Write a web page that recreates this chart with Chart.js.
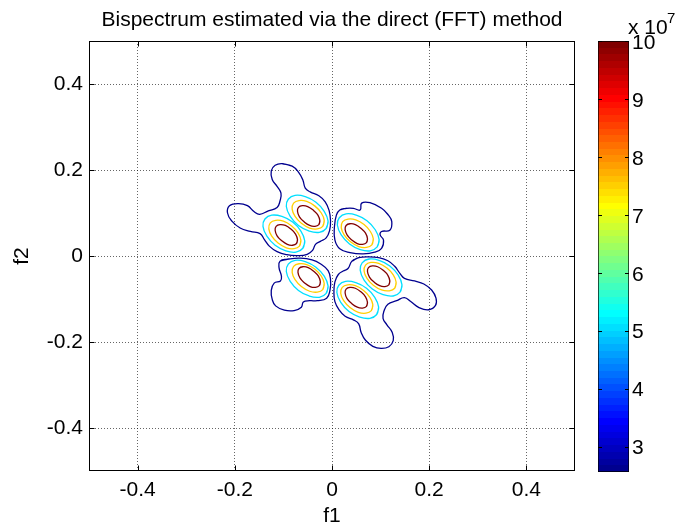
<!DOCTYPE html>
<html>
<head>
<meta charset="utf-8">
<title>Bispectrum (direct FFT method)</title>
<script src="https://cdn.jsdelivr.net/npm/chart.js@4.4.0/dist/chart.umd.min.js"></script>
<style>
  html, body { margin: 0; padding: 0; background: #fff; }
  #wrap { position: relative; width: 678px; height: 529px; }
  #main { position: absolute; left: 0; top: 0; }
  #cbar { position: absolute; left: 560px; top: 0; }
</style>
</head>
<body>
<div id="wrap">
  <canvas id="main" width="678" height="529"></canvas>
  <canvas id="cbar" width="118" height="529"></canvas>
</div>
<script>
'use strict';

/* ── axes / colour scale ─────────────────────────────────────────────── */
const X_TICKS = [-0.4, -0.2, 0, 0.2, 0.4];
const Y_TICKS = [-0.4, -0.2, 0, 0.2, 0.4];
const AXIS_RANGE = [-0.5, 0.5];
const CBAR_RANGE = [2.56, 10];          // x 10^7
const CBAR_TICKS = [3, 4, 5, 6, 7, 8, 9, 10];
const LEVELS = [2.56, 5.04, 7.52, 10];  // the 4 contour levels

/* ── contour lines, [f1, f2] ─────────────────────────────────────────── */
// outer (lowest level) outlines
const NAVY_UL = [[-0.103,0.215],[-0.082,0.209],[-0.069,0.195],[-0.060,0.177],[-0.055,0.158],[-0.045,0.149],[-0.027,0.140],[-0.014,0.126],[-0.006,0.106],[-0.003,0.082],[-0.005,0.059],[-0.012,0.042],[-0.024,0.034],[-0.034,0.027],[-0.040,0.013],[-0.051,0.004],[-0.071,0.001],[-0.093,0.003],[-0.113,0.010],[-0.129,0.023],[-0.139,0.038],[-0.148,0.052],[-0.168,0.057],[-0.189,0.065],[-0.206,0.081],[-0.215,0.100],[-0.211,0.117],[-0.192,0.122],[-0.174,0.117],[-0.160,0.103],[-0.149,0.097],[-0.131,0.105],[-0.113,0.113],[-0.107,0.128],[-0.105,0.146],[-0.113,0.162],[-0.123,0.178],[-0.125,0.198],[-0.117,0.211]];
const NAVY_LR = [[0.041,-0.012],[0.055,-0.004],[0.076,-0.002],[0.096,-0.004],[0.115,-0.011],[0.129,-0.024],[0.140,-0.041],[0.149,-0.052],[0.170,-0.058],[0.189,-0.065],[0.205,-0.079],[0.214,-0.098],[0.213,-0.115],[0.199,-0.125],[0.179,-0.120],[0.162,-0.106],[0.149,-0.097],[0.133,-0.104],[0.115,-0.112],[0.107,-0.128],[0.105,-0.145],[0.113,-0.160],[0.124,-0.178],[0.126,-0.197],[0.117,-0.211],[0.101,-0.215],[0.084,-0.210],[0.069,-0.196],[0.060,-0.178],[0.055,-0.158],[0.045,-0.149],[0.027,-0.140],[0.015,-0.126],[0.006,-0.106],[0.004,-0.083],[0.006,-0.060],[0.013,-0.043],[0.023,-0.035],[0.033,-0.029]];
const NAVY_UR = [[0.016,0.107],[0.030,0.111],[0.044,0.111],[0.058,0.107],[0.061,0.123],[0.078,0.124],[0.102,0.111],[0.116,0.095],[0.123,0.080],[0.119,0.060],[0.102,0.057],[0.099,0.049],[0.106,0.037],[0.102,0.018],[0.088,0.009],[0.064,0.005],[0.037,0.008],[0.016,0.017],[0.006,0.037],[0.005,0.068],[0.009,0.095]];
const NAVY_LL = [[-0.107,-0.012],[-0.089,-0.007],[-0.065,-0.005],[-0.041,-0.009],[-0.024,-0.018],[-0.008,-0.034],[-0.003,-0.056],[-0.004,-0.079],[-0.011,-0.098],[-0.030,-0.104],[-0.046,-0.104],[-0.059,-0.107],[-0.063,-0.119],[-0.078,-0.127],[-0.098,-0.126],[-0.116,-0.116],[-0.123,-0.101],[-0.125,-0.080],[-0.119,-0.063],[-0.106,-0.058],[-0.104,-0.047],[-0.109,-0.027]];

// peak A (-0.05, 0.09)
const A_CYAN   = [[-0.012,0.064],[-0.008,0.081],[-0.016,0.104],[-0.033,0.125],[-0.055,0.138],[-0.076,0.141],[-0.090,0.132],[-0.094,0.115],[-0.086,0.092],[-0.069,0.071],[-0.047,0.058],[-0.026,0.055]];
const A_YELLOW = [[-0.019,0.069],[-0.016,0.083],[-0.022,0.100],[-0.035,0.116],[-0.052,0.127],[-0.068,0.129],[-0.079,0.123],[-0.082,0.109],[-0.076,0.092],[-0.063,0.076],[-0.046,0.065],[-0.030,0.063]];
const A_RED    = [[-0.027,0.073],[-0.025,0.082],[-0.029,0.095],[-0.038,0.106],[-0.050,0.115],[-0.061,0.117],[-0.069,0.113],[-0.071,0.104],[-0.067,0.091],[-0.058,0.080],[-0.046,0.071],[-0.035,0.069]];
// peak B (-0.09, 0.05)
const B_CYAN   = [[-0.060,0.018],[-0.056,0.035],[-0.064,0.058],[-0.081,0.079],[-0.103,0.092],[-0.124,0.095],[-0.138,0.086],[-0.142,0.069],[-0.134,0.046],[-0.117,0.025],[-0.095,0.012],[-0.074,0.009]];
const B_YELLOW = [[-0.067,0.023],[-0.064,0.037],[-0.070,0.054],[-0.083,0.070],[-0.100,0.081],[-0.116,0.083],[-0.127,0.077],[-0.130,0.063],[-0.124,0.046],[-0.111,0.030],[-0.094,0.019],[-0.078,0.017]];
const B_RED    = [[-0.073,0.029],[-0.071,0.038],[-0.075,0.051],[-0.084,0.062],[-0.096,0.071],[-0.107,0.073],[-0.115,0.069],[-0.117,0.060],[-0.113,0.047],[-0.104,0.036],[-0.092,0.027],[-0.081,0.025]];
// peak C (0.05, 0.05)
const C_CYAN   = [[0.093,0.021],[0.097,0.038],[0.089,0.061],[0.072,0.082],[0.050,0.095],[0.029,0.098],[0.015,0.089],[0.011,0.072],[0.019,0.049],[0.036,0.028],[0.058,0.015],[0.079,0.012]];
const C_YELLOW = [[0.082,0.026],[0.085,0.040],[0.079,0.057],[0.066,0.073],[0.049,0.084],[0.033,0.086],[0.022,0.080],[0.019,0.066],[0.025,0.049],[0.038,0.033],[0.055,0.022],[0.071,0.020]];
const C_RED    = [[0.071,0.031],[0.073,0.040],[0.069,0.053],[0.060,0.064],[0.048,0.073],[0.037,0.075],[0.029,0.071],[0.027,0.062],[0.031,0.049],[0.040,0.038],[0.052,0.029],[0.063,0.027]];
// peak D (-0.05, -0.05)
const D_CYAN   = [[-0.012,-0.087],[-0.008,-0.070],[-0.016,-0.047],[-0.033,-0.026],[-0.055,-0.013],[-0.076,-0.010],[-0.090,-0.019],[-0.094,-0.036],[-0.086,-0.059],[-0.069,-0.080],[-0.047,-0.093],[-0.026,-0.096]];
const D_YELLOW = [[-0.019,-0.078],[-0.016,-0.064],[-0.022,-0.047],[-0.035,-0.031],[-0.052,-0.020],[-0.068,-0.018],[-0.079,-0.024],[-0.082,-0.038],[-0.076,-0.055],[-0.063,-0.071],[-0.046,-0.082],[-0.030,-0.084]];
const D_RED    = [[-0.026,-0.069],[-0.024,-0.060],[-0.028,-0.047],[-0.037,-0.036],[-0.049,-0.027],[-0.060,-0.025],[-0.068,-0.029],[-0.070,-0.038],[-0.066,-0.051],[-0.057,-0.062],[-0.045,-0.071],[-0.034,-0.073]];
// peak E (0.10, -0.05)
const E_CYAN   = [[0.140,-0.084],[0.144,-0.067],[0.136,-0.044],[0.119,-0.023],[0.097,-0.010],[0.076,-0.007],[0.062,-0.016],[0.058,-0.033],[0.066,-0.056],[0.083,-0.077],[0.105,-0.090],[0.126,-0.093]];
const E_YELLOW = [[0.129,-0.075],[0.132,-0.061],[0.126,-0.044],[0.113,-0.028],[0.096,-0.017],[0.080,-0.015],[0.069,-0.021],[0.066,-0.035],[0.072,-0.052],[0.085,-0.068],[0.102,-0.079],[0.118,-0.081]];
const E_RED    = [[0.117,-0.067],[0.119,-0.058],[0.115,-0.045],[0.106,-0.034],[0.094,-0.025],[0.083,-0.023],[0.075,-0.027],[0.073,-0.036],[0.077,-0.049],[0.086,-0.060],[0.098,-0.069],[0.109,-0.071]];
// peak F (0.05, -0.10)
const F_CYAN   = [[0.092,-0.136],[0.096,-0.119],[0.088,-0.096],[0.071,-0.075],[0.049,-0.062],[0.028,-0.059],[0.014,-0.068],[0.010,-0.085],[0.018,-0.108],[0.035,-0.129],[0.057,-0.142],[0.078,-0.145]];
const F_YELLOW = [[0.081,-0.127],[0.084,-0.113],[0.078,-0.096],[0.065,-0.080],[0.048,-0.069],[0.032,-0.067],[0.021,-0.073],[0.018,-0.087],[0.024,-0.104],[0.037,-0.120],[0.054,-0.131],[0.070,-0.133]];
const F_RED    = [[0.071,-0.117],[0.073,-0.108],[0.069,-0.095],[0.060,-0.084],[0.048,-0.075],[0.037,-0.073],[0.029,-0.077],[0.027,-0.086],[0.031,-0.099],[0.040,-0.110],[0.052,-0.119],[0.063,-0.121]];

const CONTOURS = [
  { level: LEVELS[0], pts: NAVY_UL }, { level: LEVELS[0], pts: NAVY_LR },
  { level: LEVELS[0], pts: NAVY_UR }, { level: LEVELS[0], pts: NAVY_LL },
  { level: LEVELS[1], pts: A_CYAN }, { level: LEVELS[1], pts: B_CYAN }, { level: LEVELS[1], pts: C_CYAN },
  { level: LEVELS[1], pts: D_CYAN }, { level: LEVELS[1], pts: E_CYAN }, { level: LEVELS[1], pts: F_CYAN },
  { level: LEVELS[2], pts: A_YELLOW }, { level: LEVELS[2], pts: B_YELLOW }, { level: LEVELS[2], pts: C_YELLOW },
  { level: LEVELS[2], pts: D_YELLOW }, { level: LEVELS[2], pts: E_YELLOW }, { level: LEVELS[2], pts: F_YELLOW },
  { level: LEVELS[3], pts: A_RED }, { level: LEVELS[3], pts: B_RED }, { level: LEVELS[3], pts: C_RED },
  { level: LEVELS[3], pts: D_RED }, { level: LEVELS[3], pts: E_RED }, { level: LEVELS[3], pts: F_RED },
];

/* ── helpers ─────────────────────────────────────────────────────────── */
const FONT_FAMILY = "'Liberation Sans', Arial, Helvetica, sans-serif";
const clamp01 = v => Math.max(0, Math.min(1, v));

// MATLAB jet, x in (0, 1]
function jet(x) {
    const r = clamp01(1.5 - Math.abs(4 * x - 3));
    const g = clamp01(1.5 - Math.abs(4 * x - 2));
    const b = clamp01(1.5 - Math.abs(4 * x - 1));
    return `rgb(${Math.round(r * 255)},${Math.round(g * 255)},${Math.round(b * 255)})`;
}

function levelColor(level) {
    const t = (level - CBAR_RANGE[0]) / (CBAR_RANGE[1] - CBAR_RANGE[0]);
    const idx = Math.min(63, Math.floor(t * 64));
    return jet((idx + 1) / 64);
}

// repeat the first two vertices so the smoothed loop closes without a kink
const closeLoop = pts => pts.concat(pts.slice(0, 2)).map(([x, y]) => ({ x, y }));

const fixTicks = list => scale => { scale.ticks = list.map(v => ({ value: v })); };

/* ── main axes: box + inward tick marks ──────────────────────────────── */
const axesBox = {
    id: 'axesBox',
    afterDraw(chart) {
        const { ctx, chartArea: a, scales: { x, y } } = chart;
        const L = Math.round(a.left) + 0.5, R = Math.round(a.right) - 0.5;
        const T = Math.round(a.top) + 0.5, B = Math.round(a.bottom) - 0.5;
        ctx.save();
        ctx.strokeStyle = '#000';
        ctx.lineWidth = 1;
        ctx.strokeRect(L, T, R - L, B - T);
        ctx.beginPath();
        X_TICKS.forEach(v => {
            const px = Math.round(x.getPixelForValue(v)) + 0.5;
            ctx.moveTo(px, B); ctx.lineTo(px, B - 5);
            ctx.moveTo(px, T); ctx.lineTo(px, T + 5);
        });
        Y_TICKS.forEach(v => {
            const py = Math.round(y.getPixelForValue(v)) + 0.5;
            ctx.moveTo(L, py); ctx.lineTo(L + 5, py);
            ctx.moveTo(R, py); ctx.lineTo(R - 5, py);
        });
        ctx.stroke();
        ctx.restore();
    },
};

const gridStyle = { color: 'rgba(0,0,0,0.6)', lineWidth: 1, drawTicks: false };

new Chart(document.getElementById('main'), {
    type: 'scatter',
    data: {
        datasets: CONTOURS.map(c => ({
            data: closeLoop(c.pts),
            showLine: true,
            borderColor: levelColor(c.level),
            borderWidth: 1.3,
            pointRadius: 0,
            tension: 0.45,
            fill: false,
        })),
    },
    options: {
        responsive: false,
        animation: false,
        events: [],
        layout: { padding: { left: 0, top: 0, right: 103, bottom: 0 } },
        plugins: {
            legend: { display: false },
            tooltip: { enabled: false },
            title: {
                display: true,
                text: 'Bispectrum estimated via the direct (FFT) method',
                fullSize: false,
                color: '#000',
                font: { family: FONT_FAMILY, size: 21, weight: 'normal', lineHeight: '24px' },
                padding: { top: 8, bottom: 9 },
            },
        },
        scales: {
            x: {
                type: 'linear',
                min: AXIS_RANGE[0], max: AXIS_RANGE[1],
                afterBuildTicks: fixTicks(X_TICKS),
                afterFit: s => { s.height = 58; },
                grid: gridStyle,
                border: { display: false, dash: [1, 2] },
                ticks: { color: '#000', padding: 7, font: { family: FONT_FAMILY, size: 21 }, maxRotation: 0 },
                title: { display: true, text: 'f1', color: '#000', padding: { top: 0, bottom: 0 }, font: { family: FONT_FAMILY, size: 21 } },
            },
            y: {
                type: 'linear',
                min: AXIS_RANGE[0], max: AXIS_RANGE[1],
                afterBuildTicks: fixTicks(Y_TICKS),
                afterFit: s => { s.width = 89; },
                grid: gridStyle,
                border: { display: false, dash: [1, 2] },
                ticks: { color: '#000', padding: 6, font: { family: FONT_FAMILY, size: 21 } },
                title: { display: true, text: 'f2', color: '#000', padding: { top: 10, bottom: 0 }, font: { family: FONT_FAMILY, size: 21 } },
            },
        },
    },
    plugins: [axesBox],
});

/* ── colour bar ──────────────────────────────────────────────────────── */
function jetGradient(chart) {
    const a = chart.chartArea;
    if (!a) return '#000';
    const g = chart.ctx.createLinearGradient(0, a.bottom, 0, a.top);
    for (let i = 0; i < 64; i++) {
        const c = jet((i + 1) / 64);
        g.addColorStop(i / 64, c);
        g.addColorStop((i + 1) / 64, c);
    }
    return g;
}

const cbarDecor = {
    id: 'cbarDecor',
    afterDatasetsDraw(chart) {
        const { ctx, chartArea: a, scales: { y } } = chart;
        ctx.save();
        ctx.strokeStyle = '#000';
        ctx.lineWidth = 1;
        ctx.beginPath();
        CBAR_TICKS.forEach(v => {
            const py = Math.round(y.getPixelForValue(v)) + 0.5;
            ctx.moveTo(a.left, py); ctx.lineTo(a.left + 4, py);
            ctx.moveTo(a.right, py); ctx.lineTo(a.right - 4, py);
        });
        ctx.stroke();
        // exponent label
        ctx.fillStyle = '#000';
        ctx.textBaseline = 'alphabetic';
        ctx.font = `21px ${FONT_FAMILY}`;
        ctx.fillText('x 10', a.left + 30, 34);
        ctx.font = `15px ${FONT_FAMILY}`;
        ctx.fillText('7', a.left + 69, 23);
        ctx.restore();
    },
};

new Chart(document.getElementById('cbar'), {
    type: 'bar',
    data: {
        labels: [''],
        datasets: [{
            data: [CBAR_RANGE],
            backgroundColor: c => jetGradient(c.chart),
            borderColor: '#000',
            borderWidth: 1,
            borderSkipped: false,
            barPercentage: 1,
            categoryPercentage: 1,
        }],
    },
    options: {
        responsive: false,
        animation: false,
        events: [],
        layout: { padding: { left: 38, top: 41, bottom: 57, right: 0 } },
        plugins: { legend: { display: false }, tooltip: { enabled: false } },
        scales: {
            x: { display: false },
            y: {
                position: 'right',
                min: CBAR_RANGE[0], max: CBAR_RANGE[1],
                afterBuildTicks: fixTicks(CBAR_TICKS),
                afterFit: s => { s.width = 49; },
                grid: { display: false, drawTicks: false },
                border: { display: false },
                ticks: { color: '#000', padding: 3, labelOffset: 2, font: { family: FONT_FAMILY, size: 21 } },
            },
        },
    },
    plugins: [cbarDecor],
});
</script>
</body>
</html>
